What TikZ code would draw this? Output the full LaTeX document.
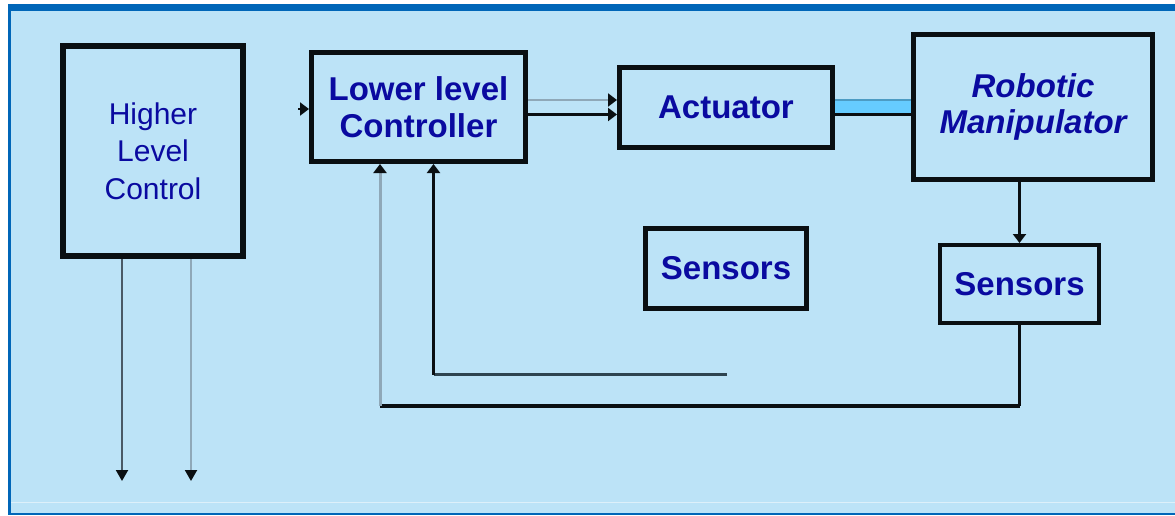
\documentclass[tikz,border=0pt]{standalone}
\usepackage{fontspec}
\setmainfont{Liberation Sans}
\usetikzlibrary{arrows.meta}
\definecolor{bg}{RGB}{188,227,247}
\definecolor{frameblue}{RGB}{0,102,184}
\definecolor{txt}{RGB}{10,10,160}
\definecolor{boxline}{RGB}{10,15,18}
\definecolor{lgray}{RGB}{143,168,184}
\definecolor{dgray}{RGB}{74,90,102}
\definecolor{slate}{RGB}{46,68,80}
\definecolor{band}{RGB}{102,204,255}
\definecolor{bandedge}{RGB}{76,156,196}
\definecolor{hline}{RGB}{221,240,250}
\begin{document}
\begin{tikzpicture}[x=1pt,y=-1pt,
  blk/.style={draw=boxline, line width=5pt, fill=bg, text=txt, align=center, inner sep=0pt},
  regtext/.style={font=\fontsize{30}{37.5}\selectfont},
  boldtext/.style={font=\fontsize{33}{37}\selectfont\bfseries},
  itbtext/.style={font=\fontsize{33}{36}\selectfont\bfseries\itshape},
  sigup/.style={-{Triangle[length=11pt,width=12pt,color=boxline]}},
  sigsmall/.style={-{Triangle[length=9pt,width=13pt,color=boxline]}}
]
\useasboundingbox (0,0) rectangle (1175,515);
% frame
\fill[white] (0,0) rectangle (1175,515);
\fill[bg] (8,4) rectangle (1175,515);
\fill[frameblue] (8,4) rectangle (1175,11);
\fill[frameblue] (8,4) rectangle (11,515);
\fill[frameblue] (8,513) rectangle (1175,515);
\draw[hline, line width=1pt] (11,502.5) -- (1175,502.5);

% boxes
\node[blk, regtext, line width=6pt, minimum width=180pt, minimum height=210pt] (higher) at (153,151) {Higher\\Level\\Control};
\node[blk, boldtext, minimum width=214pt, minimum height=109pt] (lower) at (418.5,107) {Lower level\\Controller};
\node[blk, boldtext, minimum width=213pt, minimum height=80pt] (act) at (726,107.5) {Actuator};
\node[blk, itbtext, minimum width=239pt, minimum height=145pt] (robot) at (1033,107) {Robotic\\Manipulator};
\node[blk, boldtext, minimum width=161pt, minimum height=80pt] (sensmid) at (726,268.5) {Sensors};
\node[blk, boldtext, line width=4pt, minimum width=159pt, minimum height=78pt] (sensr) at (1019.5,284) {Sensors};

% coordinates
\coordinate (hout1) at (122,481);
\coordinate (hout2) at (191,481);
\coordinate (lin) at (298,109);
\coordinate (g1) at (0,100);
\coordinate (b1) at (0,114.5);
\coordinate (fbA) at (1019.5,406);
\coordinate (fbB) at (380,406);
\coordinate (fbC) at (433.5,374.5);
\coordinate (fbD) at (727,374.5);

% higher level outputs
\draw[dgray, line width=2pt, sigup] (higher.south -| hout1) -- (hout1);
\draw[lgray, line width=2pt, sigup] (higher.south -| hout2) -- (hout2);

% input to lower level
\draw[boxline, line width=2pt, sigsmall] (lin) -- (lower.west |- lin);

% lower -> actuator
\draw[lgray, line width=2pt, sigsmall] (lower.east |- g1) -- (act.west |- g1);
\draw[boxline, line width=2.5pt, sigsmall] (lower.east |- b1) -- (act.west |- b1);

% actuator -> robot band
\fill[band] (act.east |- 0,99) rectangle (robot.west |- 0,113);
\draw[bandedge, line width=2pt] (act.east |- 0,100) -- (robot.west |- 0,100);
\draw[boxline, line width=2.5pt] (act.east |- b1) -- (robot.west |- b1);

% robot -> sensors
\draw[boxline, line width=2.5pt, sigsmall] (sensr.north |- robot.south) -- (sensr.north);

% feedback
\draw[boxline, line width=3pt] (sensr.south) -- (fbA);
\draw[boxline, line width=4pt] (fbA) -- (fbB);
\draw[lgray, line width=3pt, sigsmall] (fbB) -- (lower.south -| fbB);
\draw[slate, line width=3pt] (fbD) -- (fbC);
\draw[boxline, line width=3pt, sigsmall] (fbC) -- (lower.south -| fbC);
\end{tikzpicture}
\end{document}
